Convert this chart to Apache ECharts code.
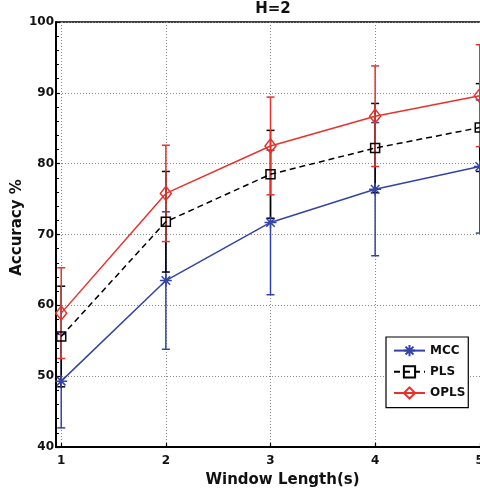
<!DOCTYPE html>
<html>
<head>
<meta charset="utf-8">
<script src="https://cdn.jsdelivr.net/npm/echarts@6/dist/echarts.min.js"></script>
<style>html,body{margin:0;padding:0;background:#fff;}#c{width:480px;height:494px;}</style>
</head>
<body>
<div id="c"></div>
<script>
// Data
var windowLengths = [1, 2, 3, 4, 5];
var xTicks = [1, 2, 3, 4, 5];
var mccMean = [49.3, 63.5, 71.7, 76.4, 79.6];
var mccErr  = [6.6, 9.7, 10.2, 9.4, 9.4];
var plsMean = [55.6, 71.8, 78.5, 82.2, 85.1];
var plsErr  = [7.1, 7.1, 6.2, 6.3, 6.2];
var oplsMean = [58.9, 75.8, 82.5, 86.7, 89.6];
var oplsErr  = [6.4, 6.8, 6.9, 7.1, 7.2];
var seriesNames = ['MCC', 'PLS', 'OPLS'];
var titleText = 'H=2';

var BLUE = '#3443a6', BLACK = '#000000', RED = '#e8312b';
var FONT = 'DejaVu Sans';

function pairs(means) { return windowLengths.map(function (x, i) { return [x, means[i]]; }); }
function errData(means, errs) {
  return windowLengths.map(function (x, i) { return [x, means[i] - errs[i], means[i] + errs[i]]; });
}
function errSeries(name, means, errs, color) {
  return {
    type: 'custom', name: name + ' err', silent: true, clip: false,
    encode: { x: 0, y: [1, 2] },
    data: errData(means, errs),
    renderItem: function (params, api) {
      var x = api.value(0);
      var lo = api.coord([x, api.value(1)]);
      var hi = api.coord([x, api.value(2)]);
      var w = 4;
      var st = { stroke: color, lineWidth: 1.5 };
      return { type: 'group', children: [
        { type: 'line', shape: { x1: lo[0], y1: lo[1], x2: hi[0], y2: hi[1] }, style: st },
        { type: 'line', shape: { x1: lo[0] - w, y1: lo[1], x2: lo[0] + w, y2: lo[1] }, style: st },
        { type: 'line', shape: { x1: hi[0] - w, y1: hi[1], x2: hi[0] + w, y2: hi[1] }, style: st }
      ] };
    }
  };
}
var asterisk = 'path://M6,0L6,12M0,6L12,6M1.76,1.76L10.24,10.24M1.76,10.24L10.24,1.76';

var chart = echarts.init(document.getElementById('c'), null, { renderer: 'canvas' });
chart.setOption({
  animation: false,
  backgroundColor: '#fff',
  textStyle: { fontFamily: FONT },
  title: {
    text: titleText, left: 273, top: 2, padding: 0, textAlign: 'center',
    textStyle: { fontFamily: FONT, fontWeight: 'bold', fontSize: 15, color: '#111' }
  },
  grid: {
    left: 56, width: 429, top: 22, height: 425, containLabel: false, outerBoundsMode: 'none',
    show: true, borderColor: '#000', borderWidth: 1.5, backgroundColor: 'transparent'
  },
  xAxis: {
    type: 'value', min: 0.95, max: 5.05,
    name: 'Window Length(s)', nameLocation: 'middle', nameGap: 26, nameMoveOverlap: false,
    nameTextStyle: { fontFamily: FONT, fontWeight: 'bold', fontSize: 15, color: '#111', padding: [0, 0, 0, 24] },
    axisLine: { show: true, lineStyle: { color: '#000', width: 2 } },
    axisTick: { show: true, inside: true, length: 4, customValues: xTicks, lineStyle: { color: '#000', width: 1.2 } },
    axisLabel: { show: true, customValues: xTicks, margin: 8, fontFamily: FONT, fontWeight: 'bold', fontSize: 12, color: '#111',
      formatter: function (v) { return String(Math.round(v)); } },
    splitLine: { show: true, lineStyle: { color: '#8a8a8a', width: 1, type: [1, 2] } }
  },
  yAxis: {
    type: 'value', min: 40, max: 100, interval: 10,
    name: 'Accuracy %', nameLocation: 'middle', nameGap: 31, nameMoveOverlap: false,
    nameTextStyle: { fontFamily: FONT, fontWeight: 'bold', fontSize: 15, color: '#111', padding: [0, 0, 0, 14] },
    axisLine: { show: true, lineStyle: { color: '#000', width: 2 } },
    axisTick: { show: true, inside: true, length: 4, lineStyle: { color: '#000', width: 1.2 } },
    minorTick: { show: true, splitNumber: 5, length: 3, lineStyle: { color: '#000', width: 1 } },
    axisLabel: { margin: 2, fontFamily: FONT, fontWeight: 'bold', fontSize: 12, color: '#111' },
    splitLine: { show: true, lineStyle: { color: '#8a8a8a', width: 1, type: [1, 2] } }
  },
  legend: {
    data: seriesNames, orient: 'vertical', left: 386, top: 337,
    padding: [7, 3, 8, 7], itemGap: 8, itemWidth: 31, itemHeight: 14,
    backgroundColor: '#fff', borderColor: '#000', borderWidth: 1.2, borderRadius: 0,
    textStyle: { fontFamily: FONT, fontWeight: 'bold', fontSize: 12, color: '#111', padding: [0, 0, 0, 0] }
  },
  series: [
    errSeries('MCC', mccMean, mccErr, BLUE),
    {
      type: 'line', name: seriesNames[0], data: pairs(mccMean),
      symbol: asterisk, symbolSize: 12,
      lineStyle: { color: BLUE, width: 1.5 },
      itemStyle: { color: 'transparent', borderColor: BLUE, borderWidth: 1.5 }
    },
    errSeries('PLS', plsMean, plsErr, BLACK),
    {
      type: 'line', name: seriesNames[1], data: pairs(plsMean),
      symbol: 'rect', symbolSize: 9,
      lineStyle: { color: BLACK, width: 1.5, type: [6, 4] },
      itemStyle: { color: 'transparent', borderColor: BLACK, borderWidth: 1.5 }
    },
    errSeries('OPLS', oplsMean, oplsErr, RED),
    {
      type: 'line', name: seriesNames[2], data: pairs(oplsMean),
      symbol: 'diamond', symbolSize: [11, 14],
      lineStyle: { color: RED, width: 1.5 },
      itemStyle: { color: 'transparent', borderColor: RED, borderWidth: 1.5 }
    }
  ]
});
</script>
</body>
</html>
